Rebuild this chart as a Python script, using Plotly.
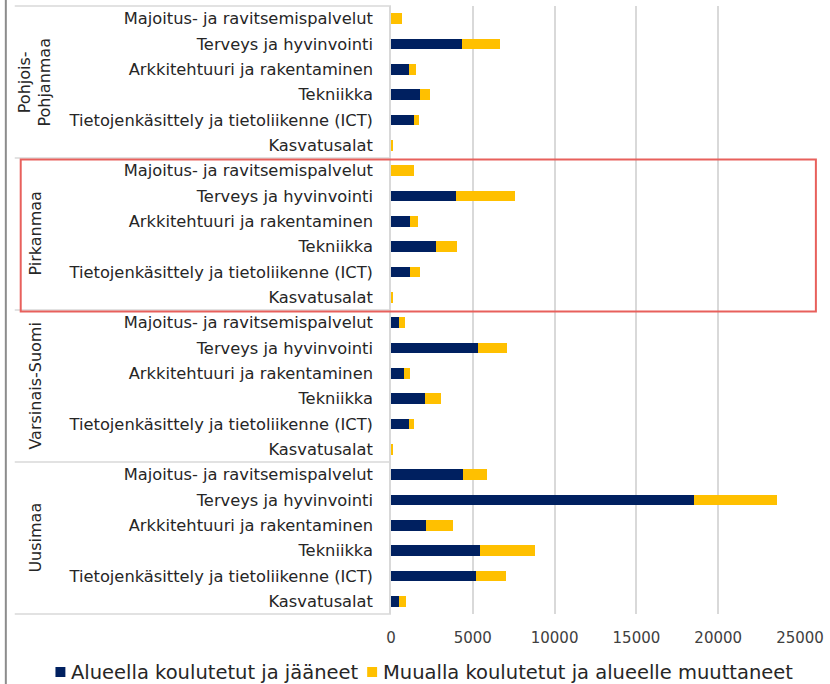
import plotly.graph_objects as go

# Regions (top to bottom) and education fields within each region
regions = ["Pohjois-<br>Pohjanmaa", "Pirkanmaa", "Varsinais-Suomi", "Uusimaa"]
fields = [
    "Majoitus- ja ravitsemispalvelut",
    "Terveys ja hyvinvointi",
    "Arkkitehtuuri ja rakentaminen",
    "Tekniikka",
    "Tietojenkäsittely ja tietoliikenne (ICT)",
    "Kasvatusalat",
]

# Trained in the region and stayed
stayed = {
    "Pohjois-<br>Pohjanmaa": [0, 4310, 1070, 1760, 1400, 60],
    "Pirkanmaa": [0, 3965, 1175, 2750, 1175, 20],
    "Varsinais-Suomi": [465, 5300, 770, 2105, 1090, 50],
    "Uusimaa": [4390, 18510, 2145, 5440, 5180, 465],
}
# Trained elsewhere and moved to the region
moved = {
    "Pohjois-<br>Pohjanmaa": [690, 2365, 445, 625, 340, 60],
    "Pirkanmaa": [1395, 3620, 465, 1255, 625, 100],
    "Varsinais-Suomi": [405, 1820, 365, 970, 325, 30],
    "Uusimaa": [1495, 5055, 1620, 3360, 1840, 425],
}

series_names = ["Alueella koulutetut ja jääneet",
                "Muualla koulutetut ja alueelle muuttaneet"]
x_ticks = [0, 5000, 10000, 15000, 20000, 25000]
highlight_region = "Pirkanmaa"

NAVY = "#002060"
GOLD = "#FFC000"
GRID = "#d9d9d9"
TEXT = "#262626"
FONT = "DejaVu Sans"

W, H = 830, 684
ML, MR, MT, MB = 391, 27, 6, 70
PW = W - ML - MR
PH = H - MT - MB


def px_x(p):
    """Pixel x -> paper x."""
    return (p - ML) / PW


def px_y(p):
    """Pixel y (from top) -> paper y."""
    return 1 - (p - MT) / PH


n_rows = len(regions) * len(fields)
ypos = list(range(n_rows))
labels = [f for _ in regions for f in fields]
stayed_vals = [v for r in regions for v in stayed[r]]
moved_vals = [v for r in regions for v in moved[r]]
colors = [NAVY, GOLD]

fig = go.Figure()
for name, vals, col in zip(series_names, [stayed_vals, moved_vals], colors):
    fig.add_trace(go.Bar(
        y=ypos, x=vals, orientation="h", name=name,
        marker=dict(color=col, line=dict(width=0)),
        showlegend=False,
    ))

shapes = []
annotations = []
# group separators in the label area
for g in range(len(regions) + 1):
    yb = 1 - g / len(regions)
    shapes.append(dict(type="line", xref="paper", yref="paper",
                       x0=px_x(12), x1=0, y0=yb, y1=yb,
                       line=dict(color=GRID, width=1.5), layer="above"))
# region labels, rotated
for g, r in enumerate(regions):
    yc = 1 - (g + 0.5) / len(regions)
    annotations.append(dict(text=r, xref="paper", yref="paper",
                            x=px_x(32), y=yc, textangle=-90,
                            showarrow=False, xanchor="center", yanchor="middle",
                            font=dict(family=FONT, size=16, color=TEXT)))
# highlight box around one region
gi = regions.index(highlight_region)
shapes.append(dict(type="rect", xref="paper", yref="paper",
                   x0=px_x(18), x1=px_x(819),
                   y0=1 - (gi + 1) / len(regions) - 1.5 / PH,
                   y1=1 - gi / len(regions) - 1.5 / PH,
                   line=dict(color="#E8605C", width=2), fillcolor="rgba(0,0,0,0)"))
# outer left frame line
shapes.append(dict(type="line", xref="paper", yref="paper",
                   x0=px_x(3), x1=px_x(3), y0=px_y(H), y1=px_y(0),
                   line=dict(color="#8c8c8c", width=2)))

# legend row: colour squares and series names
legend_y = px_y(672)
for name, col, sq_x, tx_x in zip(series_names, colors, [53, 367], [67, 381]):
    shapes.append(dict(type="rect", xref="paper", yref="paper",
                       x0=px_x(sq_x), x1=px_x(sq_x + 10),
                       y0=px_y(677), y1=px_y(667),
                       fillcolor=col, line=dict(width=0)))
    annotations.append(dict(text=name, xref="paper", yref="paper",
                            x=px_x(tx_x), y=legend_y, showarrow=False,
                            xanchor="left", yanchor="middle",
                            font=dict(family=FONT, size=19.5, color=TEXT)))

fig.update_layout(
    width=W, height=H,
    margin=dict(l=ML, r=MR, t=MT, b=MB),
    paper_bgcolor="white", plot_bgcolor="white",
    barmode="stack", bargap=0.58,
    font=dict(family=FONT, color=TEXT),
    shapes=shapes, annotations=annotations,
    showlegend=False,
)
fig.update_xaxes(range=[0, 25000], tickvals=x_ticks,
                 ticktext=[str(t) for t in x_ticks],
                 showgrid=True, gridcolor=GRID, gridwidth=1.5,
                 zeroline=False, showline=False, ticks="",
                 ticklabelstandoff=13,
                 tickfont=dict(family=FONT, size=15, color="#404040"))
fig.update_yaxes(range=[n_rows - 0.5, -0.5], tickvals=ypos, ticktext=labels,
                 showgrid=False, zeroline=False, showline=True,
                 linecolor=GRID, linewidth=1.5, ticks="",
                 ticklabelstandoff=13,
                 tickfont=dict(family=FONT, size=16.3, color=TEXT))

fig.write_html("out.html")
